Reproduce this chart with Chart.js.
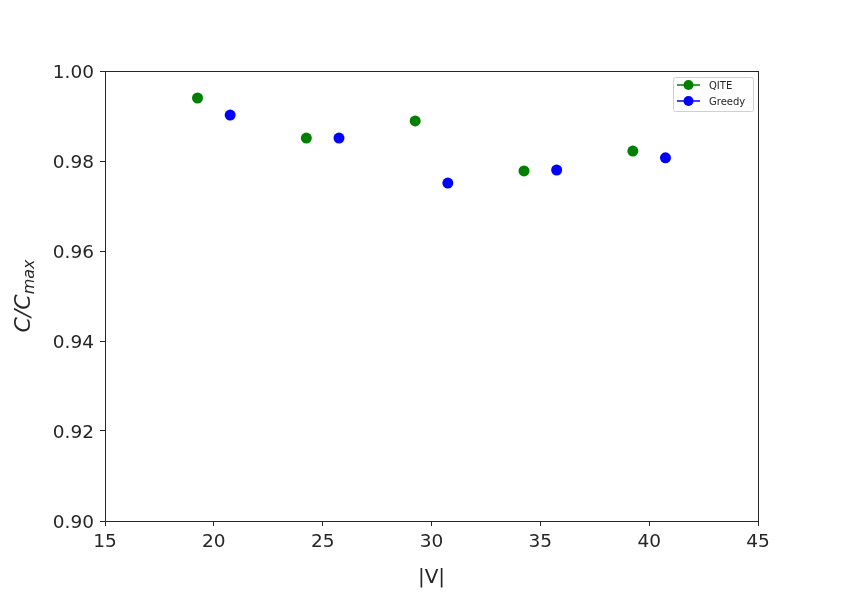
<!DOCTYPE html>
<html><head><meta charset="utf-8">
<script src="https://cdn.jsdelivr.net/npm/chart.js@4.4.0/dist/chart.umd.min.js"></script>
<style>html,body{margin:0;padding:0;background:#fff}#c{display:block}</style>
</head><body>
<canvas id="c" width="842" height="595"></canvas>
<script>
const qiteX = [19.25, 24.25, 29.25, 34.25, 39.25];
const qiteY = [0.9940, 0.9851, 0.9889, 0.9778, 0.9822];
const greedyX = [20.75, 25.75, 30.75, 35.75, 40.75];
const greedyY = [0.9902, 0.9851, 0.9751, 0.9780, 0.9807];
const xTicks = [15, 20, 25, 30, 35, 40, 45];
const yTicks = [0.90, 0.92, 0.94, 0.96, 0.98, 1.00];
const seriesNames = ['QITE', 'Greedy'];
const seriesColors = ['#008000', '#0000ff'];
const xLabel = '|V|';

const FONT = "'DejaVu Sans', sans-serif";
const TXT = '#262626';

const decor = {
  id: 'decor',
  afterDraw(chart) {
    const ctx = chart.ctx, a = chart.chartArea;
    ctx.save();
    ctx.strokeStyle = '#262626';
    ctx.lineWidth = 1;
    const L = Math.round(a.left) + 0.5, R = Math.round(a.right) + 0.5;
    const T = Math.round(a.top) + 0.5, B = Math.round(a.bottom) + 0.5;
    ctx.strokeRect(L, T, R - L, B - T);
    // x title
    ctx.fillStyle = TXT;
    ctx.font = "20px " + FONT;
    ctx.textAlign = 'center'; ctx.textBaseline = 'alphabetic';
    ctx.fillText(xLabel, (a.left + a.right) / 2, 583);
    // y title with subscript
    ctx.translate(30, (a.top + a.bottom) / 2);
    ctx.rotate(-Math.PI / 2);
    ctx.font = "italic 22px " + FONT;
    const main = 'C/C', sub = 'max';
    const wMain = ctx.measureText(main).width;
    ctx.font = "italic 16px " + FONT;
    const wSub = ctx.measureText(sub).width;
    const start = -(wMain + wSub) / 2;
    ctx.textAlign = 'left';
    ctx.font = "italic 22px " + FONT;
    ctx.fillText(main, start, 0);
    ctx.font = "italic 16px " + FONT;
    ctx.fillText(sub, start + wMain, 4);
    ctx.restore();
    // legend
    ctx.save();
    const lx = 673, ly = 77, lw = 80, lh = 34;
    ctx.fillStyle = 'rgba(255,255,255,0.8)';
    ctx.strokeStyle = '#d0d0d0';
    ctx.lineWidth = 1;
    ctx.beginPath();
    ctx.roundRect(lx + 0.5, ly + 0.5, lw, lh, 2);
    ctx.fill(); ctx.stroke();
    ctx.font = "10px " + FONT;
    ctx.textBaseline = 'middle'; ctx.textAlign = 'left';
    seriesNames.forEach((n, i) => {
      const yy = ly + 8 + i * 16;
      ctx.strokeStyle = seriesColors[i]; ctx.lineWidth = 1.5;
      ctx.beginPath(); ctx.moveTo(677, yy); ctx.lineTo(700, yy); ctx.stroke();
      ctx.fillStyle = seriesColors[i];
      ctx.beginPath(); ctx.arc(688.5, yy, 5, 0, Math.PI * 2); ctx.fill();
      ctx.fillStyle = TXT;
      ctx.fillText(n, 709, yy + 1);
    });
    ctx.restore();
  }
};

const toPts = (xs, ys) => xs.map((x, i) => ({x: x, y: ys[i]}));

new Chart(document.getElementById('c'), {
  type: 'scatter',
  data: {
    datasets: [
      {label: seriesNames[0], data: toPts(qiteX, qiteY), backgroundColor: seriesColors[0], borderColor: seriesColors[0], pointRadius: 5.5, pointBorderWidth: 0},
      {label: seriesNames[1], data: toPts(greedyX, greedyY), backgroundColor: seriesColors[1], borderColor: seriesColors[1], pointRadius: 5.5, pointBorderWidth: 0}
    ]
  },
  options: {
    responsive: false,
    animation: false,
    layout: {padding: {left: 0, top: 71, right: 84, bottom: 0}},
    plugins: {legend: {display: false}, tooltip: {enabled: false}},
    scales: {
      x: {
        type: 'linear', min: 15, max: 45,
        afterBuildTicks: s => { s.ticks = xTicks.map(v => ({value: v})); },
        afterFit: s => { s.height = 74; },
        grid: {display: true, drawOnChartArea: false, drawTicks: true, tickLength: 5, tickColor: '#262626', color: '#262626'},
        border: {display: false},
        ticks: {color: TXT, font: {family: FONT, size: 18.5}, padding: 5, maxRotation: 0, callback: v => String(v)}
      },
      y: {
        type: 'linear', min: 0.90, max: 1.00,
        afterBuildTicks: s => { s.ticks = yTicks.map(v => ({value: v})); },
        afterFit: s => { s.width = 105; },
        grid: {display: true, drawOnChartArea: false, drawTicks: true, tickLength: 5, tickColor: '#262626', color: '#262626'},
        border: {display: false},
        ticks: {color: TXT, font: {family: FONT, size: 18.5}, padding: 6, labelOffset: 2, callback: v => v.toFixed(2)}
      }
    }
  },
  plugins: [decor]
});
</script>
</body></html>
